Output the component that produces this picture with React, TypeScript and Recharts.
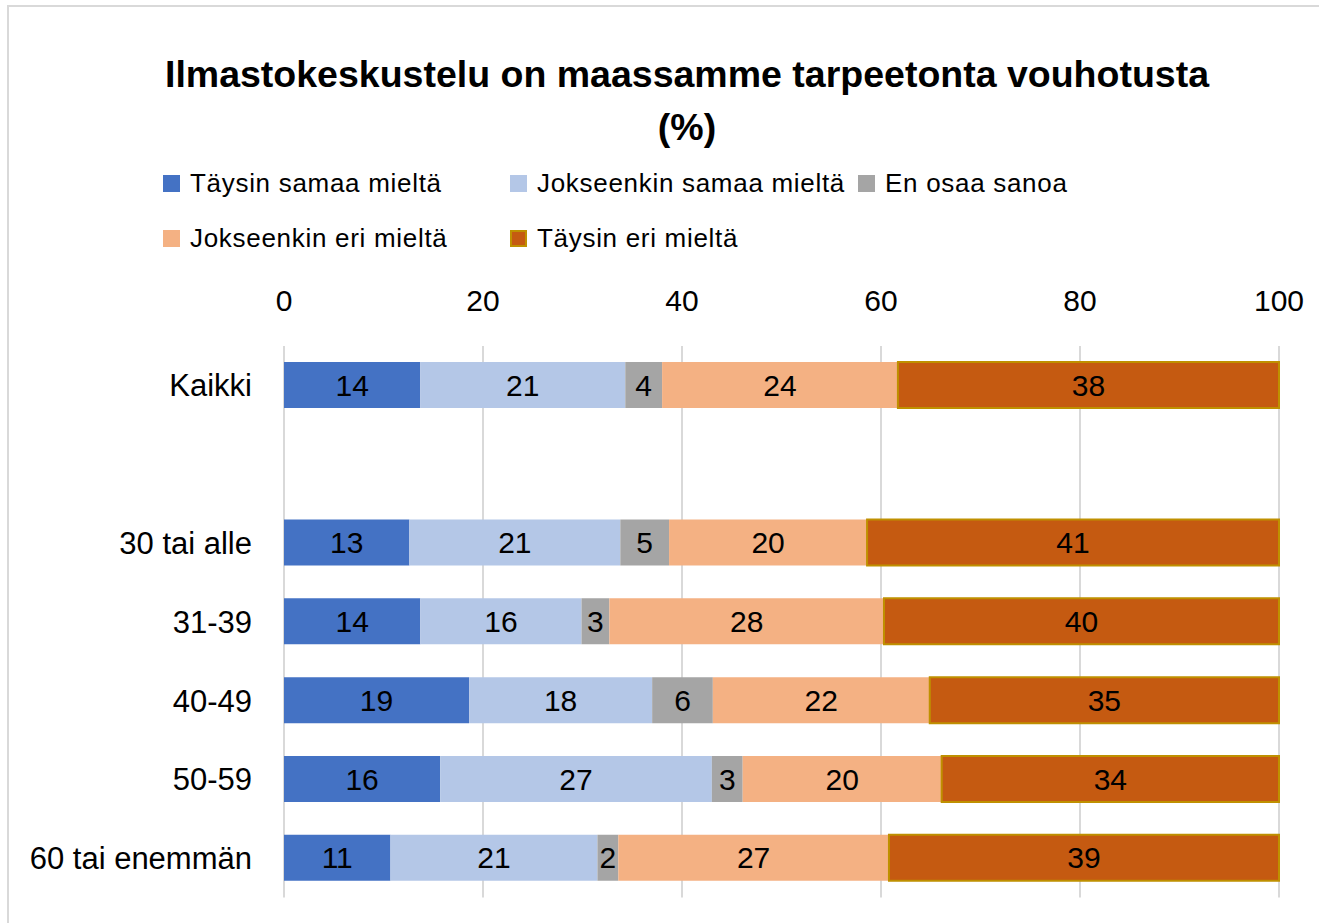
import { BarChart, Bar, XAxis, YAxis, CartesianGrid, LabelList } from 'recharts';

// age groups (empty row between "Kaikki" and the groups)
const categories = ['Kaikki', '', '30 tai alle', '31-39', '40-49', '50-59', '60 tai enemmän'];

// shares in % (labels are rounded)
const taysinSamaa = [13.7, null, 12.6, 13.7, 18.6, 15.7, 10.7];
const jokseenkinSamaa = [20.6, null, 21.2, 16.2, 18.4, 27.3, 20.8];
const enOsaa = [3.7, null, 4.9, 2.8, 6.1, 3.1, 2.1];
const jokseenkinEri = [23.7, null, 19.9, 27.6, 21.8, 20.0, 27.2];
const taysinEri = [38.3, null, 41.4, 39.7, 35.1, 33.9, 39.2];

const xTicks = [0, 20, 40, 60, 80, 100];

const series = [
  { key: 'taysinSamaa', name: 'Täysin samaa mieltä', color: '#4472C4', values: taysinSamaa },
  { key: 'jokseenkinSamaa', name: 'Jokseenkin samaa mieltä', color: '#B4C7E7', values: jokseenkinSamaa },
  { key: 'enOsaa', name: 'En osaa sanoa', color: '#A5A5A5', values: enOsaa },
  { key: 'jokseenkinEri', name: 'Jokseenkin eri mieltä', color: '#F4B183', values: jokseenkinEri },
  { key: 'taysinEri', name: 'Täysin eri mieltä', color: '#C55A11', values: taysinEri, stroke: '#BF9000' },
];

const data = categories.map((name, i) => {
  const row: any = { name };
  series.forEach((s) => {
    row[s.key] = s.values[i];
  });
  return row;
});

const FONT = '"Liberation Sans", Arial, sans-serif';

// legend laid out like the original: 3 columns, 2 rows
const legendPos = [
  { left: 163, top: 183 },
  { left: 510, top: 183 },
  { left: 858, top: 183 },
  { left: 163, top: 238 },
  { left: 510, top: 238 },
];

export default function App() {
  return (
    <div
      style={{
        position: 'absolute',
        left: 0,
        top: 0,
        width: 1319,
        height: 923,
        background: '#fff',
        overflow: 'hidden',
        fontFamily: FONT,
      }}
    >
      {/* chart frame */}
      <div
        style={{
          position: 'absolute',
          left: 7,
          top: 5,
          width: 1340,
          height: 940,
          border: '2px solid #d9d9d9',
          boxSizing: 'border-box',
        }}
      />

      <div
        style={{
          position: 'absolute',
          left: 687,
          top: 48,
          transform: 'translateX(-50%)',
          textAlign: 'center',
          whiteSpace: 'nowrap',
          fontWeight: 'bold',
          fontSize: 37.5,
          lineHeight: '53px',
          color: '#000',
        }}
      >
        Ilmastokeskustelu on maassamme tarpeetonta vouhotusta
        <br />
        (%)
      </div>

      {series.map((s, i) => (
        <div
          key={s.key}
          style={{
            position: 'absolute',
            left: legendPos[i].left,
            top: legendPos[i].top - 16,
            height: 32,
            display: 'flex',
            alignItems: 'center',
            whiteSpace: 'nowrap',
            fontSize: 26,
            color: '#000',
            letterSpacing: 0.7,
          }}
        >
          <span
            style={{
              display: 'inline-block',
              width: 17,
              height: 17,
              background: s.color,
              border: s.stroke ? `2px solid ${s.stroke}` : 'none',
              boxSizing: 'border-box',
              marginRight: 10,
            }}
          />
          {s.name}
        </div>
      ))}

      <div style={{ position: 'absolute', left: 0, top: 0 }}>
        <BarChart
          width={1319}
          height={923}
          data={data}
          layout="vertical"
          margin={{ top: 300, right: 40, bottom: 25.5, left: 8 }}
        >
          <CartesianGrid horizontal={false} stroke="#d9d9d9" strokeWidth={2} />
          <XAxis
            type="number"
            orientation="top"
            domain={[0, 100]}
            ticks={xTicks}
            height={46}
            axisLine={false}
            tickLine={false}
            tickSize={0}
            tickMargin={35}
            tick={{ fill: '#000', fontSize: 30, fontFamily: FONT }}
            interval={0}
          />
          <YAxis
            type="category"
            dataKey="name"
            width={276}
            axisLine={false}
            tickLine={false}
            tickSize={0}
            tickMargin={32}
            interval={0}
            tick={{ fill: '#000', fontSize: 31, fontFamily: FONT }}
          />
          {series.map((s) => (
            <Bar
              key={s.key}
              dataKey={s.key}
              name={s.name}
              stackId="a"
              fill={s.color}
              stroke={s.stroke}
              strokeWidth={s.stroke ? 2 : 0}
              barSize={46}
              isAnimationActive={false}
            >
              <LabelList
                dataKey={s.key}
                position="center"
                fill="#000"
                fontSize={30}
                fontFamily={FONT}
                formatter={(v: any) => (v == null ? '' : Math.round(v))}
              />
            </Bar>
          ))}
        </BarChart>
      </div>
    </div>
  );
}
